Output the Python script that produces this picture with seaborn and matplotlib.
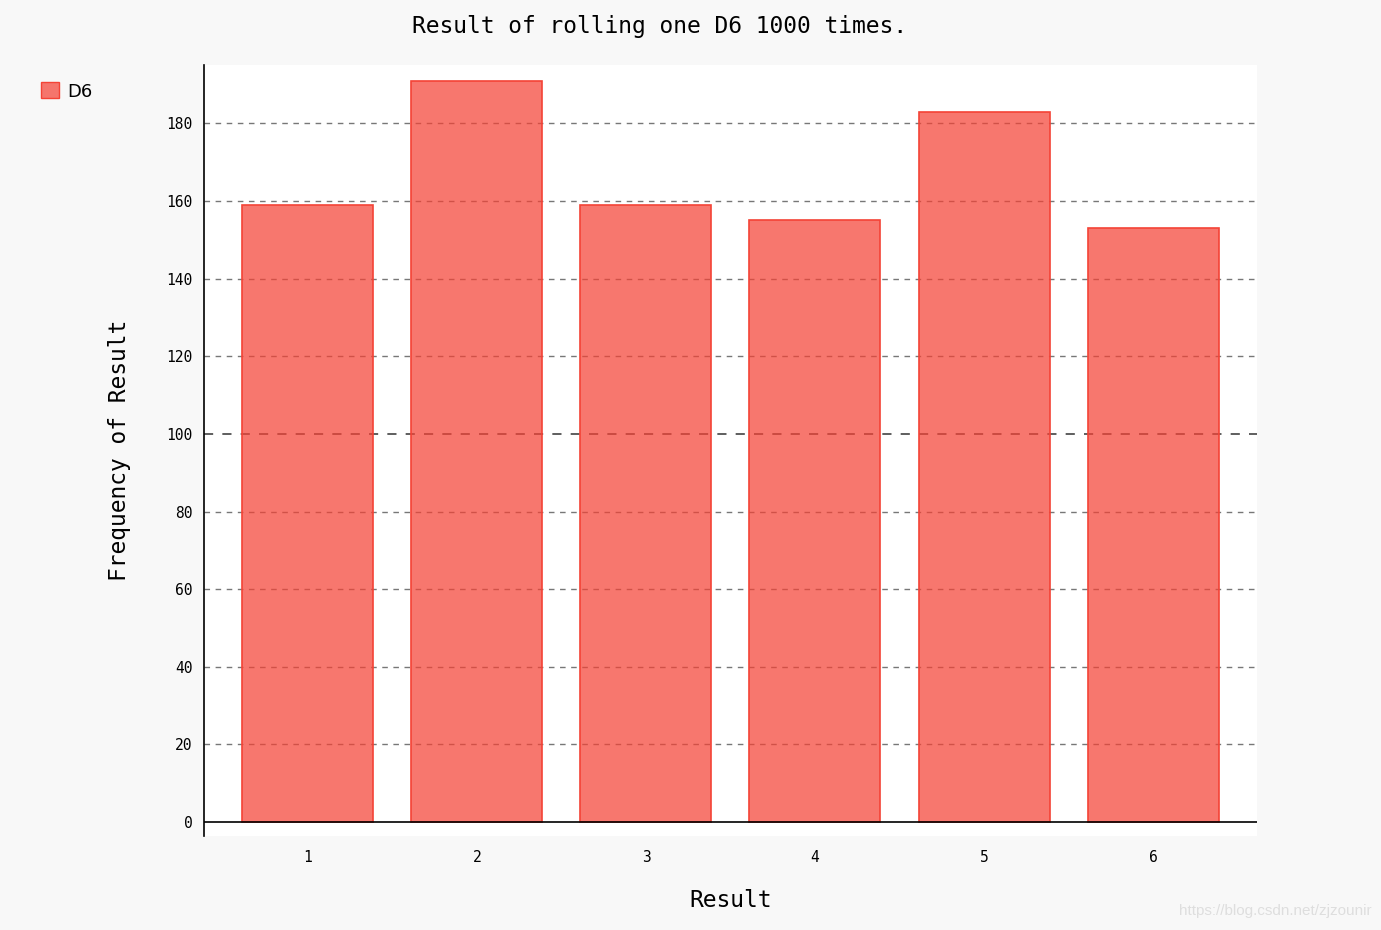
import pandas as pd
import seaborn as sns
import matplotlib.pyplot as plt
from matplotlib.patches import Patch
from matplotlib.colors import to_rgba

results = ["1", "2", "3", "4", "5", "6"]
frequencies = [159, 191, 159, 155, 183, 153]
yticks = [0, 20, 40, 60, 80, 100, 120, 140, 160, 180]

df = pd.DataFrame({"Result": results, "Frequency": frequencies})

sns.set_theme(style="white")
plt.rcParams['font.family'] = ['DejaVu Sans Mono', 'DejaVu Sans']
plt.rcParams['text.color'] = "#000000"
plt.rcParams['axes.labelcolor'] = "#000000"

bar_col = "#F44336"
fig = plt.figure(figsize=(13.81, 9.30), dpi=100, facecolor="#f8f8f8")
ax = fig.add_axes([0.1477, 0.101, 0.7625, 0.829])
ax.set_facecolor("white")

sns.barplot(data=df, x="Result", y="Frequency", order=results,
            color=bar_col, width=0.775, ax=ax, zorder=2)
for p in ax.patches:
    p.set_facecolor(to_rgba(bar_col, 0.72))
    p.set_edgecolor(bar_col)
    p.set_linewidth(1.2)

ax.set_xlim(-0.615, 5.615)
ax.set_ylim(-3.6, 195)
ax.set_yticks(yticks)
ax.set_yticklabels([str(v) for v in yticks])

# guide lines
for v in yticks[1:]:
    if v == 100:
        ax.axhline(v, color="#000000", lw=1.1, ls=(0, (6, 6)), alpha=0.8, zorder=1)
    else:
        ax.axhline(v, color="#555555", lw=1.0, ls=(0, (4, 4)), alpha=0.8, zorder=1)
ax.axhline(0, color="#000000", lw=1.2, zorder=3)

for s in ["top", "right", "bottom"]:
    ax.spines[s].set_visible(False)
ax.spines["left"].set_color("#000000")
ax.spines["left"].set_linewidth(1.2)

ax.tick_params(axis="y", length=0, pad=8, labelsize=10.5, colors="#000000")
ax.tick_params(axis="x", length=0, pad=10, labelsize=10.5, colors="#000000")

ax.set_xlabel("Result", fontsize=16.5, labelpad=17)
ax.set_ylabel("Frequency of Result", fontsize=16.5, labelpad=26)
fig.text(0.4775, 0.972, "Result of rolling one D6 1000 times.",
         ha="center", va="center", fontsize=16.5)

handle = Patch(facecolor=to_rgba(bar_col, 0.72), edgecolor=bar_col, label="D6")
fig.legend(handles=[handle], loc="upper left", bbox_to_anchor=(0.018, 0.929),
           frameon=False, handlelength=1.0, handleheight=1.0, handletextpad=0.45,
           prop={"family": "DejaVu Sans", "size": 13})

fig.text(0.993, 0.02, "https://blog.csdn.net/zjzounir", ha="right", va="center",
         fontsize=11, color="#dedede", family="Liberation Sans")

fig.savefig("out.png", dpi=100, facecolor=fig.get_facecolor())
